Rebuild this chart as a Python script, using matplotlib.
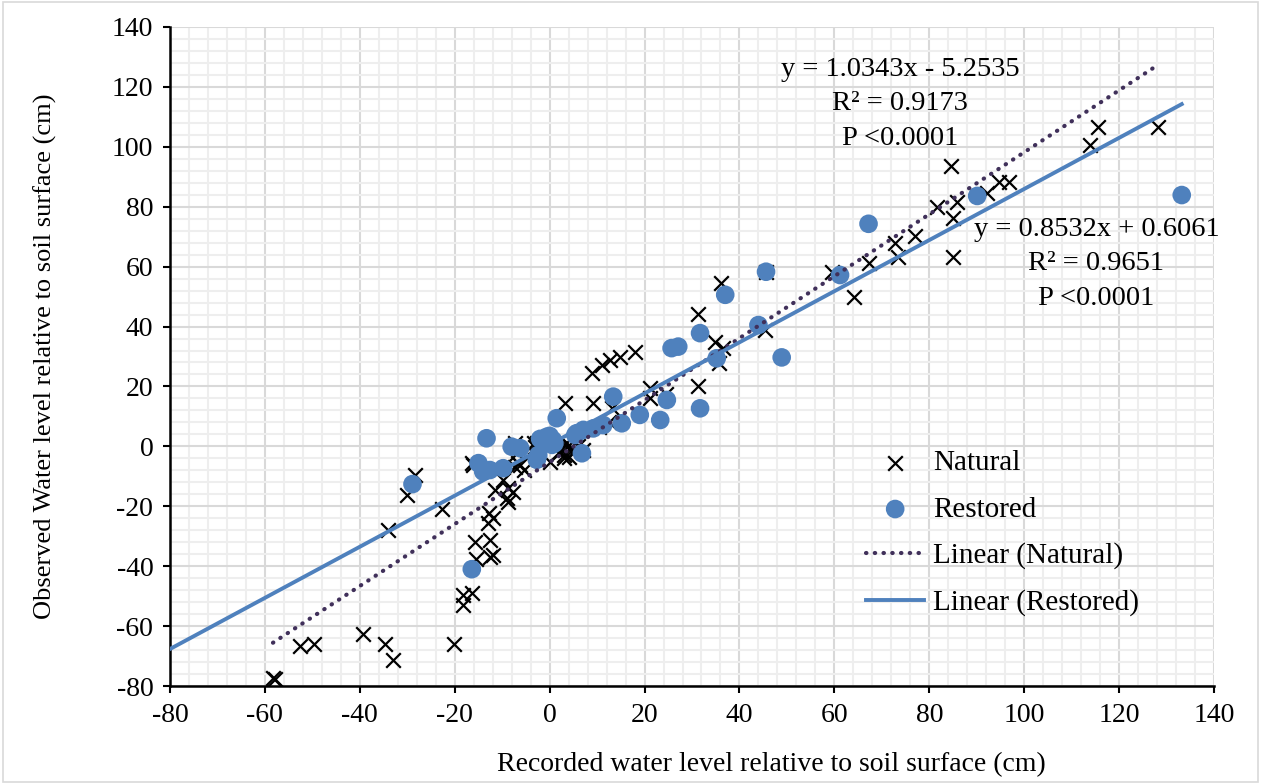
import matplotlib
matplotlib.use("Agg")
import matplotlib.pyplot as plt
import numpy as np
from matplotlib.ticker import MultipleLocator
from matplotlib.patches import Rectangle

# ---------------- data ----------------
natural_x = [-58.3, -57.8, -52.6, -49.7, -39.4, -34.7, -33.1, -20.1,
             -34.0, -30.0, -28.4, -22.7,
             -18.2, -16.4, -18.2, -15.5, -15.7,
             -12.8, -11.9, -12.9, -12.6, -12.6, -12.0,
             -8.7, -11.5, -8.7, -7.7, -9.0, -9.8,
             -16.4, -16.1, -7.3, -6.6, -5.5, -6.2,
             -7.3, -3.4, -2.8, -3.1, -6.9, -2.7, 0.1,
             2.0, 3.0, 4.0, 4.0, 5.0, 3.5, 6.0, 7.1, 4.0, 3.0,
             3.2, 9.2, 13.1, 8.9, 11.0, 12.7, 14.8, 18.0,
             21.2, 21.2, 24.5, 10.5, 12.5,
             31.3, 31.3, 34.9, 36.6, 35.6, 36.2, 45.4, 45.6,
             59.5, 64.2, 67.2, 72.8, 73.5, 77.0, 81.6, 84.6, 85.8, 85.1, 85.1,
             92.1, 94.6, 96.7, 113.9, 115.6, 128.2]
natural_y = [-77.3, -77.8, -66.5, -66.0, -62.6, -66.1, -71.3, -66.0,
             -27.9, -16.2, -9.5, -21.0,
             -49.6, -49.0, -53.0, -37.6, -31.8,
             -22.3, -24.0, -25.7, -31.3, -36.8, -36.4,
             -18.5, -14.6, -14.0, -15.1, -17.3, -11.2,
             -5.6, -6.2, -6.8, -5.6, -7.9, -6.2,
             1.0, 1.0, -3.0, -0.1, -2.3, 1.0, -5.1,
             -2.0, -3.0, -1.0, 0.5, -2.0, 1.0, 0.0, -1.2, -3.5, -4.0,
             14.4, 14.4, 12.7, 24.4, 27.2, 28.8, 30.0, 31.6,
             19.4, 16.0, 17.5, 6.5, 8.0,
             44.2, 20.2, 35.0, 32.7, 27.7, 54.7, 38.9, 58.3,
             58.3, 50.0, 61.1, 67.8, 63.3, 70.3, 80.0, 93.7, 81.7, 76.2, 63.3,
             84.5, 88.4, 88.4, 100.6, 106.7, 106.7]

restored_x = [-28.9, -16.4, -13.3, -15.0, -14.0, -12.6, -9.8, -8.0, -6.2,
              -2.7, -2.4, -0.6, -1.0, 0.0, 1.0, 0.5, -2.0, 1.5, 0.7,
              5.7, 6.8, 5.4, 7.1, 9.2, 11.3, 15.2, 13.4, 19.0, 23.3, 24.7,
              25.7, 27.1, 31.7, 31.7, 35.2, 37.0, 44.0, 48.9, 45.6, 61.2,
              67.2, 90.1, 133.2]
restored_y = [-12.6, -41.0, 2.7, -5.6, -8.4, -7.9, -7.3, -0.1, -0.6,
              -4.5, -2.9, 3.2, 2.0, 3.5, 1.0, 0.5, 2.5, 9.4, 2.1,
              4.4, -2.3, 3.8, 5.5, 6.0, 7.1, 7.7, 16.6, 10.5, 8.8, 15.5,
              32.8, 33.3, 12.7, 37.8, 29.4, 50.6, 40.5, 29.7, 58.3, 57.2,
              74.3, 83.6, 83.9]

natural_fit = (1.0343, -5.2535)
restored_fit = (0.8532, 0.6061)

natural_eq = "y = 1.0343x - 5.2535\nR² = 0.9173\nP <0.0001"
restored_eq = "y = 0.8532x + 0.6061\nR² = 0.9651\nP <0.0001"

x_ticks = list(range(-80, 141, 20))
y_ticks = list(range(-80, 141, 20))

xlabel = "Recorded water level relative to soil surface (cm)"
ylabel = "Observed Water level relative to soil surface (cm)"

# ---------------- style ----------------
plt.rcParams['font.family'] = ['Liberation Serif', 'DejaVu Serif']
plt.rcParams['axes.unicode_minus'] = False
blue = '#4F81BD'
purple = '#40305A'

fig = plt.figure(figsize=(12.61, 7.84), dpi=100)
W, H = 1261, 784
ax = fig.add_axes([170 / W, 1 - 686 / H, (1214 - 170) / W, (686 - 27) / H])

ax.set_xlim(-80, 140)
ax.set_ylim(-80, 140)
ax.set_xticks(x_ticks)
ax.set_yticks(y_ticks)
ax.xaxis.set_minor_locator(MultipleLocator(4))
ax.yaxis.set_minor_locator(MultipleLocator(4))
ax.grid(which='major', color='#D9D9D9', lw=1.5, zorder=0)
ax.grid(which='minor', color='#EEEEEE', lw=1.5, zorder=0)
ax.set_axisbelow(True)

for s in ['top', 'right']:
    ax.spines[s].set_visible(False)
for s in ['left', 'bottom']:
    ax.spines[s].set_color('black')
    ax.spines[s].set_linewidth(1.8)
ax.tick_params(which='major', direction='out', length=5, width=1.5,
               labelsize=20, colors='black', pad=7)
ax.tick_params(which='minor', length=0)

# points
ax.scatter(natural_x, natural_y, marker='x', s=110, c='black',
           linewidths=1.6, zorder=3, label='Natural')
ax.scatter(restored_x, restored_y, marker='o', s=180, c=blue,
           edgecolors='none', zorder=4, label='Restored')

# trend lines
nx = np.array([min(natural_x), max(natural_x)])
ax.plot(nx, natural_fit[0] * nx + natural_fit[1], color=purple, lw=3.0,
        linestyle=(0, (0.1, 2.0)), dash_capstyle='round', zorder=5,
        label='Linear (Natural)')
rx = np.array([ax.get_xlim()[0], max(restored_x)])
ax.plot(rx, restored_fit[0] * rx + restored_fit[1], color=blue, lw=2.8,
        zorder=5, label='Linear (Restored)')

# equations
ax.text(73.8, 114.3, natural_eq, ha='center', va='center', fontsize=20.5,
        linespacing=1.5, zorder=6)
ax.text(115.2, 61.0, restored_eq, ha='center', va='center', fontsize=20.5,
        linespacing=1.5, zorder=6)

# axis labels
fig.text(771 / W, 1 - 765 / H, xlabel, ha='center', va='center', fontsize=20)
fig.text(45 / W, 1 - 356 / H, ylabel, ha='center', va='center',
         rotation=90, fontsize=19)

leg = ax.legend(loc='upper left', bbox_to_anchor=((866 - 170) / 1044, (686 - 450) / 659),
                frameon=False, fontsize=21, handlelength=2.0, handletextpad=0.3,
                labelspacing=0.68, borderaxespad=0, borderpad=0)
leg.set_zorder(7)

fig.patches.append(Rectangle((0.002, 0.002), 0.996, 0.996, transform=fig.transFigure,
                             fill=False, edgecolor='#D9D9D9', lw=1.2))

fig.savefig('out.png', dpi=100)
